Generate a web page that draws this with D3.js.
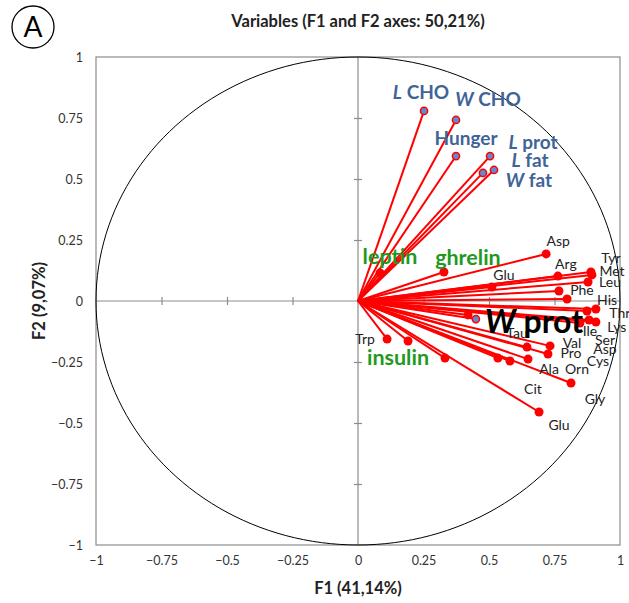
<!DOCTYPE html>
<html>
<head>
<meta charset="utf-8">
<script src="https://cdn.jsdelivr.net/npm/d3@7"></script>
<style>
  body { margin: 0; background: #fff; }
  svg { font-family: Lato, "Open Sans", sans-serif; }
</style>
</head>
<body>
<div id="chart"></div>
<script>
// Correlation circle data (F1, F2 loadings)
const aminoNames = ["Asp", "Arg", "Tyr", "Met", "Leu", "Phe", "His", "Glu", "Thr", "Ile", "Lys", "Ser", "Asp",
  "Val", "Pro", "Tau", "Ala", "Orn", "Cys", "Cit", "Gly", "Glu", "Trp", ""];
const aminoF1 = [0.718, 0.763, 0.889, 0.893, 0.878, 0.767, 0.798, 0.511, 0.908, 0.874, 0.908, 0.882, 0.847,
  0.733, 0.725, 0.420, 0.645, 0.649, 0.580, 0.534, 0.813, 0.691, 0.111, 0.191];
const aminoF2 = [0.193, 0.102, 0.119, 0.107, 0.078, 0.041, 0.008, 0.057, -0.033, -0.041, -0.086, -0.078, -0.090,
  -0.184, -0.217, -0.057, -0.189, -0.238, -0.246, -0.234, -0.336, -0.455, -0.156, -0.164];

const hormoneNames = ["leptin", "ghrelin", "insulin"];
const hormoneF1 = [0.084, 0.328, 0.332];
const hormoneF2 = [0.115, 0.119, -0.234];

const intakeNames = [["L", " CHO"], ["W", " CHO"], ["", "Hunger"], ["L", " prot"], ["L", " fat"], ["W", " fat"], ["W", " prot"]];
const intakeF1 = [0.252, 0.374, 0.374, 0.504, 0.477, 0.519, 0.450];
const intakeF2 = [0.779, 0.742, 0.594, 0.594, 0.525, 0.537, -0.074];

const axisTicks = [-1, -0.75, -0.5, -0.25, 0, 0.25, 0.5, 0.75, 1];

// label offsets (pixels from the point), kept apart from the values
const aminoLabelOff = [[12, -13], [8, -12], [20, -14], [20, -4], [22, 0], [23, -1], [40, 1], [12, -12], [24, 4],
  [3, 20], [21, 5], [16, 20], [25, 26], [22, -3], [23, -1], [49, 18], [22, 22], [49, 10], [88, 0], [35, 31],
  [24, 16], [20, 13], [-22, 0], [0, 0]];
const hormoneLabelOff = [[10, -16], [24, -14], [-47, -1]];
const intakeLabelOff = [[-3, -19], [32, -21], [10, -18], [43, -14], [47, -13], [35, 10], [58, 3]];

const W = 629, H = 603;
const svg = d3.select("#chart").append("svg").attr("width", W).attr("height", H);

const x = d3.scaleLinear().domain([-1, 1]).range([96, 620]);
const y = d3.scaleLinear().domain([-1, 1]).range([545, 57]);

// title and panel letter
svg.append("text").attr("x", 358).attr("y", 27).attr("text-anchor", "middle")
  .attr("font-weight", "bold").attr("font-size", 16.5).attr("fill", "#222")
  .text("Variables (F1 and F2 axes: 50,21%)");
svg.append("circle").attr("cx", 33).attr("cy", 27).attr("r", 21)
  .attr("fill", "none").attr("stroke", "#000").attr("stroke-width", 1.3);
svg.append("text").attr("x", 33).attr("y", 37).attr("text-anchor", "middle")
  .attr("font-size", 28).attr("fill", "#000").text("A");

// frame
svg.append("rect").attr("x", x(-1)).attr("y", y(1))
  .attr("width", x(1) - x(-1)).attr("height", y(-1) - y(1))
  .attr("fill", "none").attr("stroke", "#8c8c8c").attr("stroke-width", 1.2);

// tick labels on the frame
const yAxis = svg.append("g").attr("transform", `translate(${x(-1)},0)`)
  .call(d3.axisLeft(y).tickValues(axisTicks).tickSize(0).tickPadding(13).tickFormat(d3.format("")));
const xAxis = svg.append("g").attr("transform", `translate(0,${y(-1)})`)
  .call(d3.axisBottom(x).tickValues(axisTicks).tickSize(0).tickPadding(11).tickFormat(d3.format("")));
[xAxis, yAxis].forEach(g => {
  g.select(".domain").remove();
  g.selectAll("text").attr("font-size", 12.5).attr("fill", "#333").attr("font-family", "Lato, sans-serif");
});

// zero lines with crossing ticks
svg.append("line").attr("x1", x(-1)).attr("x2", x(1)).attr("y1", y(0)).attr("y2", y(0))
  .attr("stroke", "#8c8c8c").attr("stroke-width", 1.2);
svg.append("line").attr("x1", x(0)).attr("x2", x(0)).attr("y1", y(-1)).attr("y2", y(1))
  .attr("stroke", "#8c8c8c").attr("stroke-width", 1.2);
const crossX = svg.append("g").attr("transform", `translate(0,${y(0) - 4})`)
  .call(d3.axisBottom(x).tickValues(axisTicks.filter(d => d !== 0 && Math.abs(d) !== 1)).tickSize(8).tickFormat(""));
const crossY = svg.append("g").attr("transform", `translate(${x(0) - 4},0)`)
  .call(d3.axisRight(y).tickValues(axisTicks.filter(d => d !== 0 && Math.abs(d) !== 1)).tickSize(8).tickFormat(""));
[crossX, crossY].forEach(g => {
  g.select(".domain").remove();
  g.selectAll("line").attr("stroke", "#8c8c8c").attr("stroke-width", 1.2);
});

// unit circle (an ellipse in pixels)
const circ = d3.range(0, 361, 2).map(a => [Math.cos(a * Math.PI / 180), Math.sin(a * Math.PI / 180)]);
svg.append("path").datum(circ)
  .attr("d", d3.line().x(d => x(d[0])).y(d => y(d[1])))
  .attr("fill", "none").attr("stroke", "#000").attr("stroke-width", 1);

// axis titles
svg.append("text").attr("x", 358).attr("y", 594).attr("text-anchor", "middle")
  .attr("font-weight", "bold").attr("font-size", 16.5).attr("fill", "#222").text("F1 (41,14%)");
svg.append("text").attr("transform", "translate(45,301) rotate(-90)").attr("text-anchor", "middle")
  .attr("font-weight", "bold").attr("font-size", 16.5).attr("fill", "#222").text("F2 (9,07%)");

const amino = aminoNames.map((n, i) => ({ name: n, f1: aminoF1[i], f2: aminoF2[i], off: aminoLabelOff[i] }));
const hormones = hormoneNames.map((n, i) => ({ name: n, f1: hormoneF1[i], f2: hormoneF2[i], off: hormoneLabelOff[i] }));
const intake = intakeNames.map((n, i) => ({ name: n, f1: intakeF1[i], f2: intakeF2[i], off: intakeLabelOff[i] }));
const all = [...amino, ...hormones, ...intake];

// vectors from the origin
svg.append("g").selectAll("line").data(all).join("line")
  .attr("x1", x(0)).attr("y1", y(0))
  .attr("x2", d => x(d.f1)).attr("y2", d => y(d.f2))
  .attr("stroke", "#ff0000").attr("stroke-width", 2);

// points
svg.append("g").selectAll("circle").data([...amino, ...hormones]).join("circle")
  .attr("cx", d => x(d.f1)).attr("cy", d => y(d.f2)).attr("r", 4.5)
  .attr("fill", "#ff0000");
svg.append("g").selectAll("circle").data(intake).join("circle")
  .attr("cx", d => x(d.f1)).attr("cy", d => y(d.f2)).attr("r", 3.6)
  .attr("fill", "#5f8bd0").attr("stroke", "#ff0000").attr("stroke-width", 1.5);

// labels
svg.append("g").selectAll("text").data(amino.filter(d => d.name)).join("text")
  .attr("x", d => x(d.f1) + d.off[0]).attr("y", d => y(d.f2) + d.off[1])
  .attr("text-anchor", "middle").attr("dy", "0.35em")
  .attr("font-size", 14).attr("fill", "#222").text(d => d.name);

svg.append("g").selectAll("text").data(hormones).join("text")
  .attr("x", d => x(d.f1) + d.off[0]).attr("y", d => y(d.f2) + d.off[1])
  .attr("text-anchor", "middle").attr("dy", "0.35em")
  .attr("font-size", 21.5).attr("font-weight", "bold").attr("fill", "#1f9a1f").text(d => d.name);

const intakeText = svg.append("g").selectAll("text").data(intake).join("text")
  .attr("x", d => x(d.f1) + d.off[0]).attr("y", d => y(d.f2) + d.off[1])
  .attr("text-anchor", "middle").attr("dy", "0.35em")
  .attr("font-weight", "bold")
  .attr("font-size", d => d.name[1] === " prot" && d.name[0] === "W" ? 32 : 19)
  .attr("fill", d => d.name[1] === " prot" && d.name[0] === "W" ? "#000" : "#3f6497");
intakeText.append("tspan").attr("font-style", "italic").text(d => d.name[0]);
intakeText.append("tspan").text(d => d.name[1]);
</script>
</body>
</html>
